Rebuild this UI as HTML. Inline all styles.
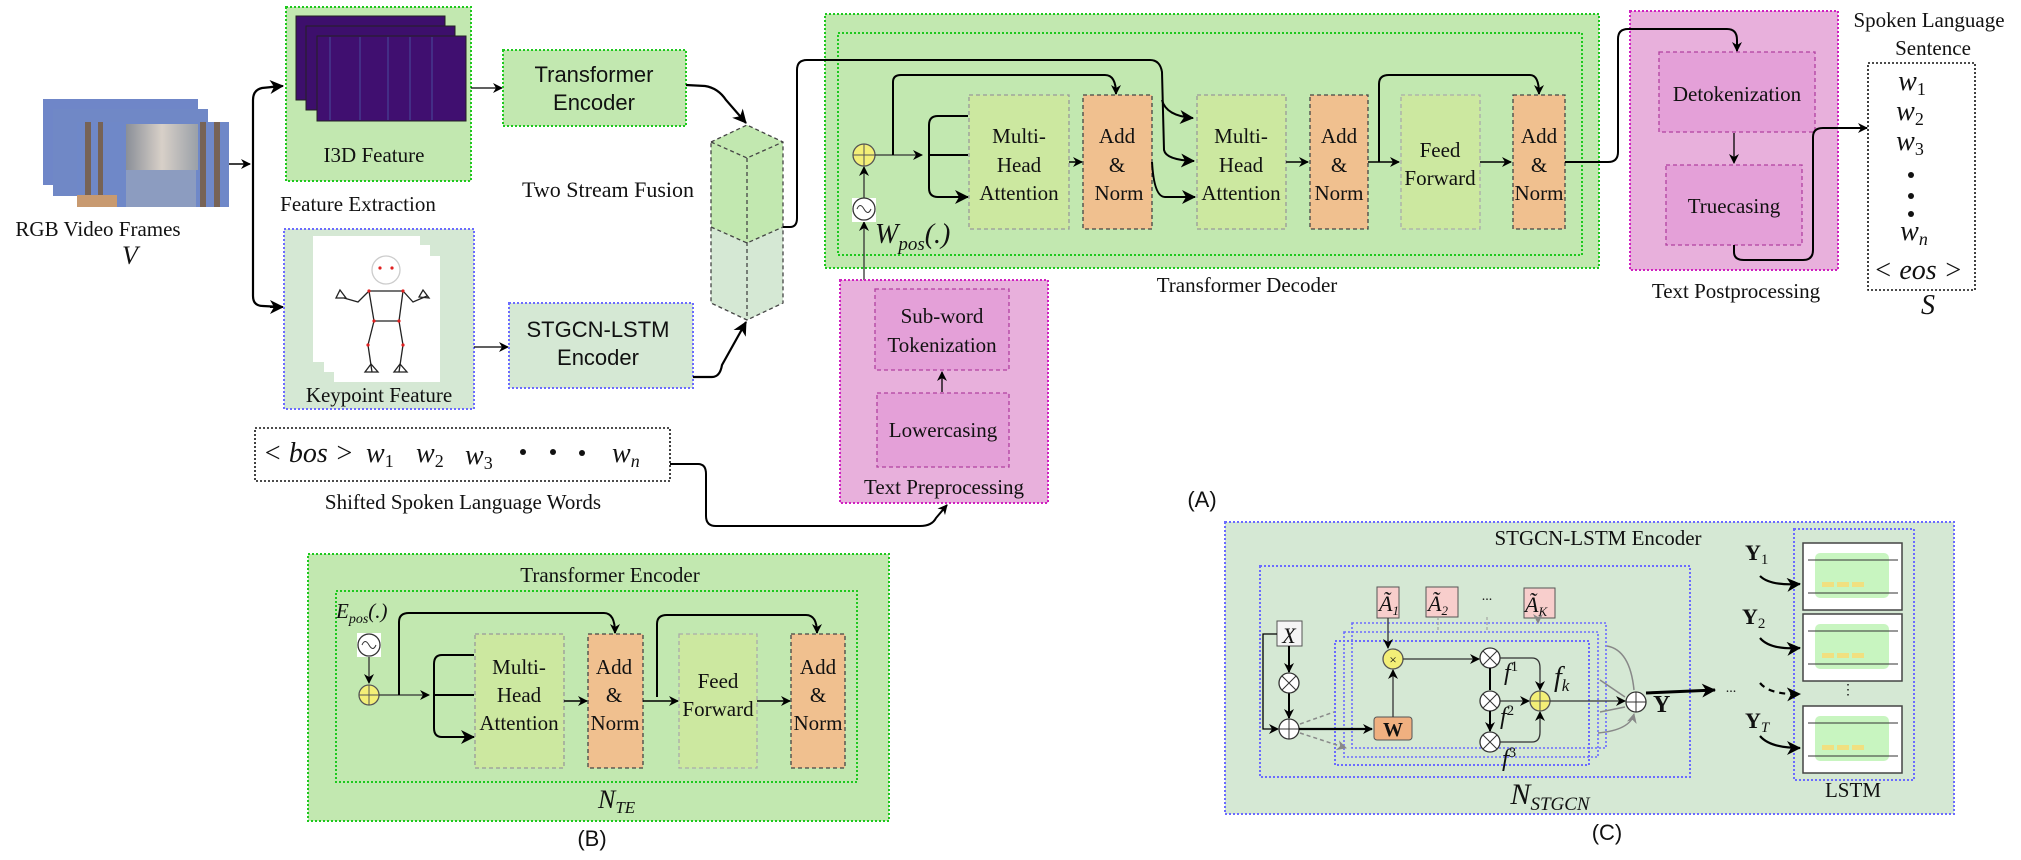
<!DOCTYPE html>
<html><head><meta charset="utf-8"><style>
html,body{margin:0;padding:0;background:#fff;}
svg{display:block;}
text{font-family:"Liberation Serif",serif;fill:#111;}
.s{font-family:"Liberation Sans",sans-serif;}
.i{font-style:italic;}
</style></head><body>
<svg width="2021" height="860" viewBox="0 0 2021 860" xmlns="http://www.w3.org/2000/svg">
<defs>
<marker id="a" markerWidth="10" markerHeight="10" refX="9" refY="5" orient="auto" markerUnits="userSpaceOnUse"><path d="M0,0 L10,5 L0,10 L3,5 z" fill="#000"/></marker>
<marker id="ab" markerWidth="14" markerHeight="14" refX="13" refY="7" orient="auto" markerUnits="userSpaceOnUse"><path d="M0,0 L14,7 L0,14 L4,7 z" fill="#000"/></marker>
<marker id="ag" markerWidth="10" markerHeight="10" refX="9" refY="5" orient="auto" markerUnits="userSpaceOnUse"><path d="M0,0 L10,5 L0,10 L3,5 z" fill="#888"/></marker>
<linearGradient id="face" x1="0" x2="1"><stop offset="0" stop-color="#8a8f98"/><stop offset="0.5" stop-color="#d8d0c8"/><stop offset="1" stop-color="#9aa0a8"/></linearGradient>
</defs>

<!-- RGB frames -->
<g>
<rect x="43" y="99" width="155" height="86" fill="#6f86c8"/>
<rect x="53" y="109" width="155" height="87" fill="#7088c6"/>
<rect x="77" y="122" width="152" height="85" fill="#6f88c8"/>
<g fill="#7a5a3a" opacity="0.8">
<rect x="85" y="122" width="6" height="85"/><rect x="98" y="122" width="5" height="85"/><rect x="200" y="122" width="6" height="85"/><rect x="214" y="122" width="6" height="85"/>
</g>
<rect x="126" y="124" width="72" height="46" fill="url(#face)"/>
<rect x="126" y="170" width="70" height="37" fill="#8c9cc0"/>
<rect x="77" y="195" width="40" height="12" fill="#c89a70"/>
</g>
<text x="98" y="236" font-size="21" text-anchor="middle">RGB Video Frames</text>
<text x="130" y="264" font-size="26" class="i" text-anchor="middle">V</text>
<path d="M229,164 L250,164" stroke="#000" stroke-width="1.5" fill="none" marker-end="url(#a)"/>
<path d="M282,86 L262,88 Q253,90 253,100 L253,296 Q253,306 263,306 L282,307" stroke="#000" stroke-width="2.2" fill="none"/>
<path d="M270,87 L283,86" stroke="#000" stroke-width="2" marker-end="url(#ab)"/>
<path d="M270,307 L283,307" stroke="#000" stroke-width="2" marker-end="url(#ab)"/>

<!-- I3D -->
<rect x="286" y="7" width="185" height="174" fill="#c2e8b0" stroke="#1ec81e" stroke-width="2" stroke-dasharray="2,2"/>
<rect x="296" y="16" width="149" height="84" fill="#3d0f6c" stroke="#222"/>
<rect x="306" y="26" width="149" height="84" fill="#3d0f6c" stroke="#222"/>
<rect x="317" y="36" width="149" height="85" fill="#400f70" stroke="#222"/>
<g stroke="#4a6ab0" stroke-width="1" opacity="0.7"><line x1="330" y1="37" x2="330" y2="120"/><line x1="360" y1="37" x2="360" y2="120"/><line x1="388" y1="37" x2="388" y2="120"/><line x1="432" y1="37" x2="432" y2="120"/><line x1="410" y1="37" x2="410" y2="120"/></g>
<text x="374" y="162" font-size="21" text-anchor="middle">I3D Feature</text>
<text x="358" y="211" font-size="21" text-anchor="middle">Feature Extraction</text>
<path d="M471,88 L502,88" stroke="#000" stroke-width="1.3" marker-end="url(#a)"/>

<!-- Keypoint -->
<rect x="284" y="229" width="190" height="180" fill="#d5e8d4" stroke="#6b6bff" stroke-width="2" stroke-dasharray="2,2"/>
<path d="M313,236 L420,236 L420,245 L430,245 L430,256 L440,256 L440,382 L334,382 L334,372 L324,372 L324,362 L313,362 z" fill="#fff"/>
<g stroke="#222" stroke-width="1.3" fill="none">
<path d="M369,291 L403,291 M369,291 L374,321 L399,321 L403,291 M374,321 L368,345 L372,372 M399,321 L403,345 L399,372 M369,291 L358,302 L344,298 M403,291 L413,302 L427,296"/>
<path d="M340,290 L346,298 L336,298 z M423,290 L429,298 L419,297 z M365,372 L378,372 L371,364 z M394,372 L407,372 L400,364 z"/>
<circle cx="386" cy="270" r="14" stroke="#ccc"/>
</g>
<g fill="#e02020"><circle cx="369" cy="291" r="1.6"/><circle cx="403" cy="291" r="1.6"/><circle cx="374" cy="321" r="1.6"/><circle cx="399" cy="321" r="1.6"/><circle cx="368" cy="345" r="1.6"/><circle cx="403" cy="345" r="1.6"/><circle cx="380" cy="268" r="1.6"/><circle cx="392" cy="268" r="1.6"/></g>
<text x="379" y="402" font-size="21" text-anchor="middle">Keypoint Feature</text>
<path d="M474,347 L508,347" stroke="#000" stroke-width="1.3" marker-end="url(#a)"/>

<!-- Encoders -->
<rect x="503" y="50" width="183" height="76" fill="#c2e8b0" stroke="#1ec81e" stroke-width="2" stroke-dasharray="2,2"/>
<text x="594" y="82" font-size="22" class="s" text-anchor="middle">Transformer</text>
<text x="594" y="110" font-size="22" class="s" text-anchor="middle">Encoder</text>
<rect x="509" y="303" width="184" height="85" fill="#d5e8d4" stroke="#6b6bff" stroke-width="2" stroke-dasharray="2,2"/>
<text x="598" y="337" font-size="22" class="s" text-anchor="middle">STGCN-LSTM</text>
<text x="598" y="365" font-size="22" class="s" text-anchor="middle">Encoder</text>
<text x="608" y="197" font-size="22" text-anchor="middle">Two Stream Fusion</text>

<!-- cube -->
<path d="M711,142 L747,125 L783,142 L783,227 L747,243 L711,227 z" fill="#c2e8b0"/>
<path d="M711,227 L747,243 L783,227 L783,303 L747,320 L711,303 z" fill="#d5e8d4"/>
<g stroke="#444" stroke-width="1.3" stroke-dasharray="4,3" fill="none">
<path d="M711,142 L747,125 L783,142 L783,303 L747,320 L711,303 z"/>
<path d="M711,142 L747,158 L783,142 M747,158 L747,320 M711,227 L747,243 L783,227"/>
</g>
<path d="M686,85 L705,86 Q718,88 726,100 L746,123" stroke="#000" stroke-width="2.2" fill="none" marker-end="url(#ab)"/>
<path d="M693,377 L712,377 Q720,377 722,365 L746,322" stroke="#000" stroke-width="2.2" fill="none" marker-end="url(#ab)"/>

<!-- Decoder -->
<rect x="825" y="14" width="774" height="254" fill="#c2e8b0" stroke="#1ec81e" stroke-width="2" stroke-dasharray="2,2"/>
<rect x="838" y="33" width="744" height="222" fill="none" stroke="#1ec81e" stroke-width="2" stroke-dasharray="2,2"/>
<text x="1247" y="292" font-size="21" text-anchor="middle">Transformer Decoder</text>
<path d="M783,227 L790,227 Q797,227 797,218 L797,70 Q797,60 807,60 L1150,60 Q1160,60 1162,72 L1164,150 Q1166,160 1194,161" stroke="#000" stroke-width="2" fill="none" marker-end="url(#ab)"/>
<path d="M1162,100 Q1166,116 1193,118" stroke="#000" stroke-width="2" fill="none" marker-end="url(#ab)"/>
<path d="M864,280 L864,222" stroke="#333" stroke-width="1.3" marker-end="url(#a)"/>
<rect x="852" y="198" width="24" height="24" fill="#fff"/>
<circle cx="864" cy="209" r="11" fill="#fff" stroke="#333" stroke-width="1.3"/>
<path d="M857,209 Q860,202 864,209 Q868,216 871,209" stroke="#333" fill="none"/>
<path d="M864,198 L864,167" stroke="#333" stroke-width="1.3" marker-end="url(#a)"/>
<circle cx="864" cy="155" r="11" fill="#f3ef77" stroke="#555" stroke-width="1.3"/>
<path d="M853,155 L875,155 M864,144 L864,166" stroke="#555"/>
<text x="875" y="243" font-size="28" class="i">W<tspan font-size="19" dy="7">pos</tspan><tspan dy="-7">(.)</tspan></text>
<path d="M875,155 L922,155" stroke="#333" stroke-width="1.3" marker-end="url(#a)"/>
<path d="M893,155 L893,82 Q893,75 901,75 L1105,75 Q1116,75 1116,94" stroke="#000" stroke-width="2" fill="none" marker-end="url(#a)"/>
<path d="M967,116 L938,116 Q929,116 929,125 L929,188 Q929,197 938,197 L967,197 M929,155 L967,155" stroke="#000" stroke-width="2" fill="none"/>
<path d="M955,116 L968,116 M955,155 L968,155 M955,197 L968,197" stroke="#000" stroke-width="2" marker-end="url(#ab)"/>
<rect x="969" y="95" width="100" height="134" fill="#cce8a0" stroke="#999" stroke-width="1.3" stroke-dasharray="4,3"/>
<text x="1019" y="143" font-size="21" text-anchor="middle">Multi-</text><text x="1019" y="172" font-size="21" text-anchor="middle">Head</text><text x="1019" y="200" font-size="21" text-anchor="middle">Attention</text>
<path d="M1069,162 L1082,162" stroke="#000" stroke-width="1.5" marker-end="url(#a)"/>
<rect x="1083" y="95" width="69" height="134" fill="#f0c08f" stroke="#444" stroke-width="1.3" stroke-dasharray="4,3"/>
<text x="1117" y="143" font-size="21" text-anchor="middle">Add</text><text x="1117" y="172" font-size="21" text-anchor="middle">&amp;</text><text x="1119" y="200" font-size="21" text-anchor="middle">Norm</text>
<path d="M1152,162 Q1154,197 1165,197 L1195,197" stroke="#000" stroke-width="2" fill="none" marker-end="url(#ab)"/>
<rect x="1197" y="95" width="89" height="134" fill="#cce8a0" stroke="#999" stroke-width="1.3" stroke-dasharray="4,3"/>
<text x="1241" y="143" font-size="21" text-anchor="middle">Multi-</text><text x="1241" y="172" font-size="21" text-anchor="middle">Head</text><text x="1241" y="200" font-size="21" text-anchor="middle">Attention</text>
<path d="M1286,162 L1308,162" stroke="#000" stroke-width="1.5" marker-end="url(#a)"/>
<rect x="1310" y="95" width="58" height="134" fill="#f0c08f" stroke="#444" stroke-width="1.3" stroke-dasharray="4,3"/>
<text x="1339" y="143" font-size="21" text-anchor="middle">Add</text><text x="1339" y="172" font-size="21" text-anchor="middle">&amp;</text><text x="1339" y="200" font-size="21" text-anchor="middle">Norm</text>
<path d="M1368,162 L1399,162" stroke="#000" stroke-width="1.5" marker-end="url(#a)"/>
<path d="M1379,162 L1379,84 Q1379,75 1389,75 L1530,75 Q1539,75 1539,94" stroke="#000" stroke-width="2" fill="none" marker-end="url(#a)"/>
<rect x="1401" y="95" width="79" height="134" fill="#cce8a0" stroke="#aaa" stroke-width="1.3" stroke-dasharray="4,3"/>
<text x="1440" y="157" font-size="21" text-anchor="middle">Feed</text><text x="1440" y="185" font-size="21" text-anchor="middle">Forward</text>
<path d="M1480,162 L1511,162" stroke="#000" stroke-width="1.5" marker-end="url(#a)"/>
<rect x="1513" y="95" width="52" height="134" fill="#f0c08f" stroke="#444" stroke-width="1.3" stroke-dasharray="4,3"/>
<text x="1539" y="143" font-size="21" text-anchor="middle">Add</text><text x="1539" y="172" font-size="21" text-anchor="middle">&amp;</text><text x="1539" y="200" font-size="21" text-anchor="middle">Norm</text>

<!-- Postprocessing -->
<rect x="1630" y="11" width="208" height="259" fill="#e8b0dc" stroke="#d020c0" stroke-width="2" stroke-dasharray="2,2"/>
<rect x="1659" y="52" width="156" height="80" fill="#e4a0d8" stroke="#b040a0" stroke-width="1.3" stroke-dasharray="4,3"/>
<text x="1737" y="101" font-size="21" text-anchor="middle">Detokenization</text>
<path d="M1734,133 L1734,163" stroke="#000" stroke-width="1.3" marker-end="url(#a)"/>
<rect x="1666" y="165" width="136" height="80" fill="#e4a0d8" stroke="#b040a0" stroke-width="1.3" stroke-dasharray="4,3"/>
<text x="1734" y="213" font-size="21" text-anchor="middle">Truecasing</text>
<text x="1736" y="298" font-size="21" text-anchor="middle">Text Postprocessing</text>
<path d="M1565,162 L1608,162 Q1618,162 1618,152 L1618,39 Q1618,29 1628,29 L1727,29 Q1737,29 1737,40 L1737,51" stroke="#000" stroke-width="2" fill="none" marker-end="url(#a)"/>
<path d="M1734,245 L1734,252 Q1734,260 1744,260 L1803,260 Q1813,260 1813,250 L1813,137 Q1813,128 1823,128 L1867,128" stroke="#000" stroke-width="2" fill="none" marker-end="url(#a)"/>
<text x="1929" y="27" font-size="21" text-anchor="middle">Spoken Language</text>
<text x="1933" y="55" font-size="21" text-anchor="middle">Sentence</text>
<rect x="1868" y="63" width="107" height="227" fill="#fff" stroke="#111" stroke-width="1.6" stroke-dasharray="2,2"/>
<g font-size="28" class="i" text-anchor="middle">
<text x="1912" y="90">w<tspan font-size="18" dy="5" font-style="normal">1</tspan></text>
<text x="1910" y="120">w<tspan font-size="18" dy="5" font-style="normal">2</tspan></text>
<text x="1910" y="150">w<tspan font-size="18" dy="5" font-style="normal">3</tspan></text>
<text x="1914" y="240">w<tspan font-size="18" dy="5">n</tspan></text>
<text x="1918" y="279">&lt; eos &gt;</text>
<text x="1928" y="314" font-size="28">S</text>
</g>
<circle cx="1911" cy="175" r="3" fill="#111"/><circle cx="1911" cy="196" r="3" fill="#111"/><circle cx="1911" cy="214" r="3" fill="#111"/>

<!-- Preprocessing -->
<rect x="840" y="280" width="208" height="223" fill="#e8b0dc" stroke="#d020c0" stroke-width="2" stroke-dasharray="2,2"/>
<rect x="875" y="289" width="134" height="81" fill="#e4a0d8" stroke="#b040a0" stroke-width="1.3" stroke-dasharray="4,3"/>
<text x="942" y="323" font-size="21" text-anchor="middle">Sub-word</text>
<text x="942" y="352" font-size="21" text-anchor="middle">Tokenization</text>
<path d="M942,392 L942,372" stroke="#000" stroke-width="1.3" marker-end="url(#a)"/>
<rect x="877" y="393" width="132" height="74" fill="#e4a0d8" stroke="#b040a0" stroke-width="1.3" stroke-dasharray="4,3"/>
<text x="943" y="437" font-size="21" text-anchor="middle">Lowercasing</text>
<text x="944" y="494" font-size="21" text-anchor="middle">Text Preprocessing</text>

<!-- bos -->
<rect x="255" y="428" width="415" height="53" fill="#fff" stroke="#111" stroke-width="1.6" stroke-dasharray="2,2"/>
<g font-size="28" class="i">
<text x="263" y="462">&lt; bos &gt;</text>
<text x="366" y="462">w<tspan font-size="18" dy="5" font-style="normal">1</tspan></text>
<text x="416" y="462">w<tspan font-size="18" dy="5" font-style="normal">2</tspan></text>
<text x="465" y="464">w<tspan font-size="18" dy="5" font-style="normal">3</tspan></text>
<text x="612" y="462">w<tspan font-size="18" dy="5">n</tspan></text>
</g>
<circle cx="523" cy="452" r="3" fill="#111"/><circle cx="553" cy="452" r="3" fill="#111"/><circle cx="582" cy="453" r="3" fill="#111"/>
<text x="463" y="509" font-size="21" text-anchor="middle">Shifted Spoken Language Words</text>
<path d="M670,464 L698,464 Q706,464 706,474 L706,516 Q706,526 716,526 L920,526 Q932,526 936,518 L947,505" stroke="#000" stroke-width="2" fill="none" marker-end="url(#a)"/>
<text x="1202" y="507" font-size="22" class="s" text-anchor="middle">(A)</text>

<!-- B -->
<rect x="308" y="554" width="581" height="267" fill="#c2e8b0" stroke="#1ec81e" stroke-width="2" stroke-dasharray="2,2"/>
<rect x="336" y="591" width="521" height="191" fill="none" stroke="#1ec81e" stroke-width="2" stroke-dasharray="2,2"/>
<text x="610" y="582" font-size="21" text-anchor="middle">Transformer Encoder</text>
<text x="336" y="618" font-size="21" class="i">E<tspan font-size="14" dy="5">pos</tspan><tspan dy="-5">(.)</tspan></text>
<rect x="357" y="633" width="24" height="24" fill="#fff"/>
<circle cx="369" cy="645" r="11" fill="#fff" stroke="#333" stroke-width="1.3"/>
<path d="M362,645 Q365,638 369,645 Q373,652 376,645" stroke="#333" fill="none"/>
<path d="M369,657 L369,683" stroke="#333" stroke-width="1.3" marker-end="url(#a)"/>
<circle cx="369" cy="695" r="10" fill="#f3ef77" stroke="#555" stroke-width="1.3"/>
<path d="M359,695 L379,695 M369,685 L369,705" stroke="#555"/>
<path d="M379,695 L429,695" stroke="#333" stroke-width="1.3" marker-end="url(#a)"/>
<path d="M399,695 L399,622 Q399,613 409,613 L604,613 Q615,613 615,633" stroke="#000" stroke-width="2" fill="none" marker-end="url(#a)"/>
<path d="M472,655 L442,655 Q434,655 434,664 L434,728 Q434,737 442,737 L472,737 M434,695 L472,695" stroke="#000" stroke-width="2" fill="none"/>
<path d="M460,655 L474,655 M460,695 L474,695 M460,737 L474,737" stroke="#000" stroke-width="2" marker-end="url(#ab)"/>
<rect x="475" y="634" width="89" height="134" fill="#cce8a0" stroke="#999" stroke-width="1.3" stroke-dasharray="4,3"/>
<text x="519" y="674" font-size="21" text-anchor="middle">Multi-</text><text x="519" y="702" font-size="21" text-anchor="middle">Head</text><text x="519" y="730" font-size="21" text-anchor="middle">Attention</text>
<path d="M564,701 L587,701" stroke="#000" stroke-width="1.5" marker-end="url(#a)"/>
<rect x="588" y="634" width="55" height="134" fill="#f0c08f" stroke="#444" stroke-width="1.3" stroke-dasharray="4,3"/>
<text x="614" y="674" font-size="21" text-anchor="middle">Add</text><text x="614" y="702" font-size="21" text-anchor="middle">&amp;</text><text x="615" y="730" font-size="21" text-anchor="middle">Norm</text>
<path d="M643,701 L678,701" stroke="#000" stroke-width="1.5" marker-end="url(#a)"/>
<path d="M657,697 L657,624 Q657,615 667,615 L806,615 Q817,615 817,633" stroke="#000" stroke-width="2" fill="none" marker-end="url(#a)"/>
<rect x="679" y="634" width="78" height="134" fill="#cce8a0" stroke="#aaa" stroke-width="1.3" stroke-dasharray="4,3"/>
<text x="718" y="688" font-size="21" text-anchor="middle">Feed</text><text x="718" y="716" font-size="21" text-anchor="middle">Forward</text>
<path d="M757,701 L790,701" stroke="#000" stroke-width="1.5" marker-end="url(#a)"/>
<rect x="791" y="634" width="54" height="134" fill="#f0c08f" stroke="#444" stroke-width="1.3" stroke-dasharray="4,3"/>
<text x="818" y="674" font-size="21" text-anchor="middle">Add</text><text x="818" y="702" font-size="21" text-anchor="middle">&amp;</text><text x="818" y="730" font-size="21" text-anchor="middle">Norm</text>
<text x="598" y="808" font-size="26" class="i">N<tspan font-size="17" dy="5">TE</tspan></text>
<text x="592" y="846" font-size="22" class="s" text-anchor="middle">(B)</text>

<!-- C -->
<rect x="1225" y="522" width="729" height="292" fill="#d5e8d4" stroke="#6b6bff" stroke-width="2" stroke-dasharray="2,2"/>
<text x="1598" y="545" font-size="21" text-anchor="middle">STGCN-LSTM Encoder</text>
<rect x="1260" y="566" width="430" height="211" fill="none" stroke="#6b6bff" stroke-width="2" stroke-dasharray="2,2"/>
<rect x="1352" y="623" width="254" height="125" fill="none" stroke="#6b6bff" stroke-width="1.6" stroke-dasharray="2,2"/>
<rect x="1344" y="632" width="254" height="125" fill="none" stroke="#6b6bff" stroke-width="1.6" stroke-dasharray="2,2"/>
<rect x="1335" y="641" width="254" height="124" fill="none" stroke="#6b6bff" stroke-width="2" stroke-dasharray="2,2"/>
<g font-size="22" class="i">
<rect x="1377" y="587" width="22" height="31" fill="#f8cecc" stroke="#555"/><text x="1379" y="611">Ã<tspan font-size="13" dy="4">1</tspan></text>
<rect x="1426" y="587" width="32" height="30" fill="#f8cecc" stroke="#555"/><text x="1428" y="611">Ã<tspan font-size="13" dy="4">2</tspan></text>
<rect x="1524" y="588" width="31" height="30" fill="#f8cecc" stroke="#555"/><text x="1525" y="612">Ã<tspan font-size="13" dy="4">K</tspan></text>
</g>
<text x="1487" y="600" font-size="14" text-anchor="middle">...</text>
<path d="M1438,617 L1438,630 M1487,617 L1487,630 M1538,618 L1538,623" stroke="#999" stroke-dasharray="3,2" marker-end="url(#ag)"/>
<rect x="1277" y="621" width="25" height="25" fill="#f5f5f5" stroke="#555"/>
<text x="1289" y="643" font-size="22" class="i" text-anchor="middle">X</text>
<path d="M1289,646 L1289,672" stroke="#000" stroke-width="2" marker-end="url(#a)"/>
<path d="M1289,693 L1289,718" stroke="#000" stroke-width="2" marker-end="url(#a)"/>
<path d="M1277,634 L1263,634 L1263,729 L1278,729" stroke="#000" stroke-width="1.3" fill="none" marker-end="url(#a)"/>
<g fill="#fff" stroke="#333" stroke-width="1.3">
<circle cx="1289" cy="683" r="10"/><circle cx="1289" cy="729" r="10"/>
<circle cx="1490" cy="658" r="10"/><circle cx="1490" cy="701" r="10"/><circle cx="1490" cy="742" r="10"/>
<circle cx="1636" cy="702" r="10"/>
</g>
<path d="M1282,676 L1296,690 M1296,676 L1282,690 M1279,729 L1299,729 M1289,719 L1289,739 M1483,651 L1497,665 M1497,651 L1483,665 M1483,694 L1497,708 M1497,694 L1483,708 M1483,735 L1497,749 M1497,735 L1483,749 M1626,702 L1646,702 M1636,692 L1636,712" stroke="#333"/>
<path d="M1299,729 L1372,729" stroke="#000" stroke-width="2.2" marker-end="url(#a)"/>
<path d="M1300,724 L1334,712 M1300,733 L1346,748" stroke="#888" stroke-width="1.5" stroke-dasharray="4,3" marker-end="url(#ag)"/>
<rect x="1374" y="717" width="38" height="23" rx="3" fill="#f0b080" stroke="#555"/>
<text x="1393" y="736" font-size="20" font-weight="bold" text-anchor="middle">W</text>
<path d="M1393,717 L1393,670" stroke="#333" stroke-width="1.3" marker-end="url(#a)"/>
<path d="M1388,618 L1388,648" stroke="#333" stroke-width="1.3" marker-end="url(#a)"/>
<circle cx="1393" cy="659" r="10" fill="#f3ef77" stroke="#555" stroke-width="1.3"/>
<text x="1393" y="664" font-size="13" text-anchor="middle">×</text>
<path d="M1403,659 L1479,659" stroke="#333" stroke-width="1.3" marker-end="url(#a)"/>
<path d="M1490,668 L1490,690 M1490,711 L1490,731" stroke="#000" stroke-width="2" marker-end="url(#a)"/>
<path d="M1500,658 L1532,658 Q1540,658 1540,668 L1540,690" stroke="#333" stroke-width="1.3" fill="none" marker-end="url(#a)"/>
<path d="M1500,701 L1529,701" stroke="#333" stroke-width="1.3" marker-end="url(#a)"/>
<path d="M1500,742 L1532,742 Q1540,742 1540,732 L1540,712" stroke="#333" stroke-width="1.3" fill="none" marker-end="url(#a)"/>
<circle cx="1540" cy="701" r="10" fill="#f3ef77" stroke="#555" stroke-width="1.3"/>
<path d="M1530,701 L1550,701 M1540,691 L1540,711" stroke="#555"/>
<g font-size="24" class="i">
<text x="1504" y="680">f<tspan font-size="15" dy="-9" font-style="normal">1</tspan></text>
<text x="1500" y="724">f<tspan font-size="15" dy="-9" font-style="normal">2</tspan></text>
<text x="1502" y="766">f<tspan font-size="15" dy="-9" font-style="normal">3</tspan></text>
<text x="1554" y="686" font-size="28">f<tspan font-size="17" dy="5">k</tspan></text>
</g>
<path d="M1550,701 L1625,701" stroke="#333" stroke-width="1.3" marker-end="url(#a)"/>
<path d="M1607,646 Q1630,650 1634,690 M1600,680 L1625,697 M1600,712 L1625,707 M1598,733 Q1630,730 1634,714" stroke="#888" stroke-width="1.5" fill="none" marker-end="url(#ag)"/>
<path d="M1646,693 L1715,690" stroke="#000" stroke-width="3" marker-end="url(#ab)"/>
<text x="1653" y="712" font-size="24" font-weight="bold">Y</text>
<text x="1731" y="692" font-size="14" text-anchor="middle">...</text>
<text x="1550" y="804" font-size="30" class="i" text-anchor="middle">N<tspan font-size="19" dy="6">STGCN</tspan></text>
<text x="1607" y="840" font-size="22" class="s" text-anchor="middle">(C)</text>
<!-- LSTM -->
<rect x="1794" y="529" width="120" height="251" fill="none" stroke="#6b6bff" stroke-width="2" stroke-dasharray="2,2"/>
<g>
<rect x="1803" y="543" width="99" height="67" fill="#fff" stroke="#444" stroke-width="1.5"/>
<rect x="1815" y="553" width="74" height="45" rx="5" fill="#c8f5c0"/>
<path d="M1808,560 L1898,560 M1808,593 L1898,593" stroke="#333"/>
<rect x="1803" y="614" width="99" height="67" fill="#fff" stroke="#444" stroke-width="1.5"/>
<rect x="1815" y="624" width="74" height="45" rx="5" fill="#c8f5c0"/>
<path d="M1808,631 L1898,631 M1808,664 L1898,664" stroke="#333"/>
<rect x="1803" y="706" width="99" height="67" fill="#fff" stroke="#444" stroke-width="1.5"/>
<rect x="1815" y="716" width="74" height="45" rx="5" fill="#c8f5c0"/>
<path d="M1808,723 L1898,723 M1808,756 L1898,756" stroke="#333"/>
<g fill="#f0e080"><rect x="1822" y="582" width="12" height="5"/><rect x="1837" y="582" width="12" height="5"/><rect x="1852" y="582" width="12" height="5"/><rect x="1822" y="653" width="12" height="5"/><rect x="1837" y="653" width="12" height="5"/><rect x="1852" y="653" width="12" height="5"/><rect x="1822" y="745" width="12" height="5"/><rect x="1837" y="745" width="12" height="5"/><rect x="1852" y="745" width="12" height="5"/></g>
</g>
<text x="1848" y="694" font-size="14" text-anchor="middle">⋮</text>
<g font-size="22" font-weight="bold">
<text x="1745" y="560">Y<tspan font-size="15" font-weight="normal" dy="4">1</tspan></text>
<text x="1742" y="624">Y<tspan font-size="15" font-weight="normal" dy="4">2</tspan></text>
<text x="1745" y="728">Y<tspan font-size="15" font-weight="normal" dy="4" font-style="italic">T</tspan></text>
</g>
<path d="M1760,576 Q1770,586 1800,584" stroke="#000" stroke-width="2.2" fill="none" marker-end="url(#ab)"/>
<path d="M1760,638 Q1770,650 1800,648" stroke="#000" stroke-width="2.2" fill="none" marker-end="url(#ab)"/>
<path d="M1760,683 Q1770,695 1800,694" stroke="#000" stroke-width="2.2" fill="none" stroke-dasharray="6,5" marker-end="url(#ab)"/>
<path d="M1760,736 Q1770,748 1800,748" stroke="#000" stroke-width="2.2" fill="none" marker-end="url(#ab)"/>
<text x="1853" y="797" font-size="21" text-anchor="middle">LSTM</text>
</svg>
</body></html>
